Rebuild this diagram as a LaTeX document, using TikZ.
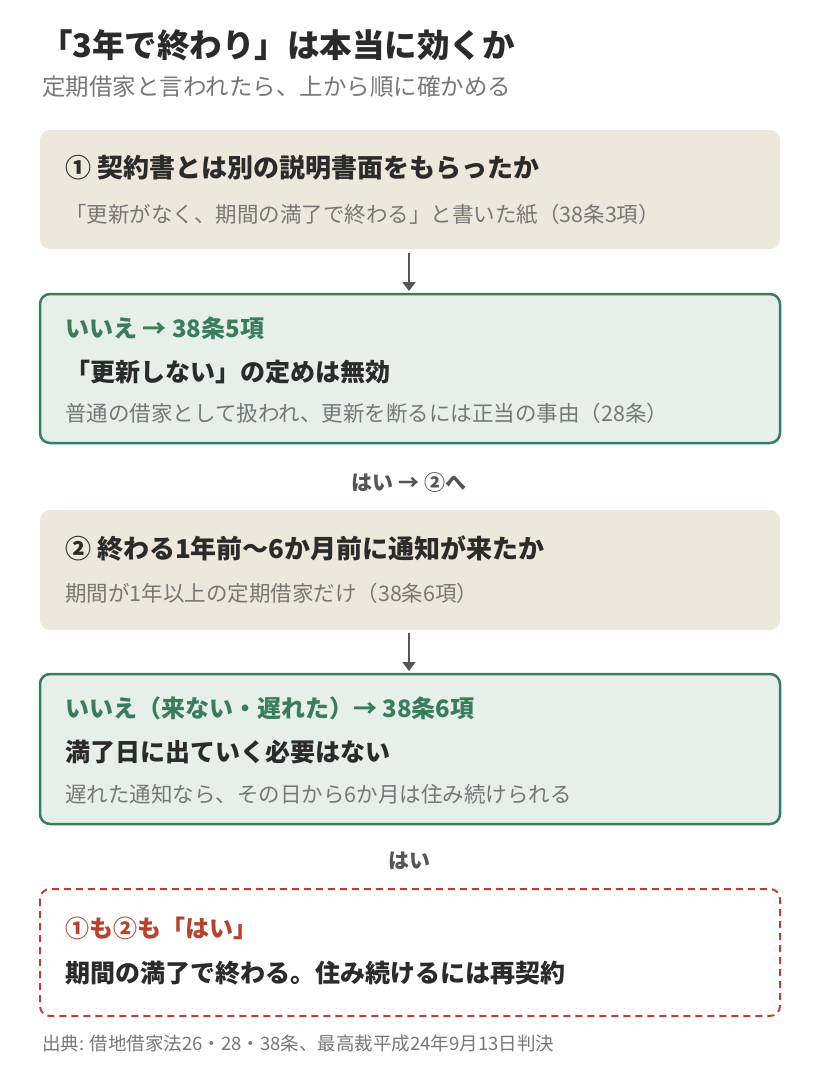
\documentclass[tikz,border=0pt]{standalone}
\usepackage{fontspec}
\setmainfont{Noto Sans CJK JP}
\usetikzlibrary{arrows.meta}
\definecolor{beige}{HTML}{EDE7DC}
\definecolor{mint}{HTML}{E6EFE9}
\definecolor{grn}{HTML}{3A7D5A}
\definecolor{rd}{HTML}{B5442F}
\definecolor{dk}{HTML}{2B2B2B}
\definecolor{gy}{HTML}{777777}
\definecolor{ar}{HTML}{555555}
\begin{document}
\begin{tikzpicture}[x=1pt,y=-1pt,
  box/.style={rounded corners=10pt},
  bbox/.style={box,fill=beige},
  gbox/.style={box,fill=mint,draw=grn,line width=2.5pt},
  rbox/.style={box,fill=white,draw=rd,line width=2pt,dash pattern=on 7pt off 5pt},
  t/.style={anchor=west,inner sep=0pt},
  head/.style={t,font=\fontsize{26}{30}\selectfont\bfseries,text=dk},
  head2/.style={t,font=\fontsize{25}{29}\selectfont\bfseries,text=dk},
  sub/.style={t,font=\fontsize{21.5}{25}\selectfont,text=gy},
  gl/.style={t,font=\fontsize{24}{28}\selectfont\bfseries,text=grn},
  mid/.style={font=\fontsize{21}{25}\selectfont\bfseries,text=ar,inner sep=0pt},
  arr/.style={-{Triangle[length=9pt,width=13pt]},line width=2.5pt,draw=ar}]
\useasboundingbox (0,0) rectangle (820,1074);
\node[t,font=\fontsize{32.5}{36}\selectfont\bfseries,text=dk] (title) at (40,45) {「3年で終わり」は本当に効くか};
\node[t,font=\fontsize{23.5}{27}\selectfont,text=gy] (subt) at (42,87) {定期借家と言われたら、上から順に確かめる};

\fill[bbox] (40,130) rectangle (780,249);
\node[head] (h1) at (65,168) {① 契約書とは別の説明書面をもらったか};
\node[sub] (s1) at (65,214) {「更新がなく、期間の満了で終わる」と書いた紙（38条3項）};

\coordinate (a1) at (409,253); \coordinate (a2) at (409,291);
\draw[arr] (a1) -- (a2);

\draw[gbox] (40,294) rectangle (780,443);
\node[gl] (g1) at (65,328) {いいえ → 38条5項};
\node[head2] (g2) at (65,372) {「更新しない」の定めは無効};
\node[sub] (g3) at (65,413) {普通の借家として扱われ、更新を断るには正当の事由（28条）};

\node[mid] (y1) at (409,483) {はい → ②へ};

\fill[bbox] (40,510) rectangle (780,630);
\node[head] (h2) at (65,548) {② 終わる1年前〜6か月前に通知が来たか};
\node[sub] (s2) at (65,593) {期間が1年以上の定期借家だけ（38条6項）};

\coordinate (b1) at (409,633); \coordinate (b2) at (409,671);
\draw[arr] (b1) -- (b2);

\draw[gbox] (40,674) rectangle (780,824);
\node[gl] (k1) at (65,708) {いいえ（来ない・遅れた）→ 38条6項};
\node[head2] (k2) at (65,752) {満了日に出ていく必要はない};
\node[sub] (k3) at (65,794) {遅れた通知なら、その日から6か月は住み続けられる};

\node[mid] (y2) at (409,861) {はい};

\draw[rbox] (40,889) rectangle (780,1016);
\node[gl,text=rd] (r1) at (65,928) {①も②も「はい」};
\node[head2] (r2) at (65,973) {期間の満了で終わる。住み続けるには再契約};

\node[t,font=\fontsize{18.5}{22}\selectfont,text=gy] (src) at (42,1043) {出典: 借地借家法26・28・38条、最高裁平成24年9月13日判決};
\end{tikzpicture}
\end{document}
